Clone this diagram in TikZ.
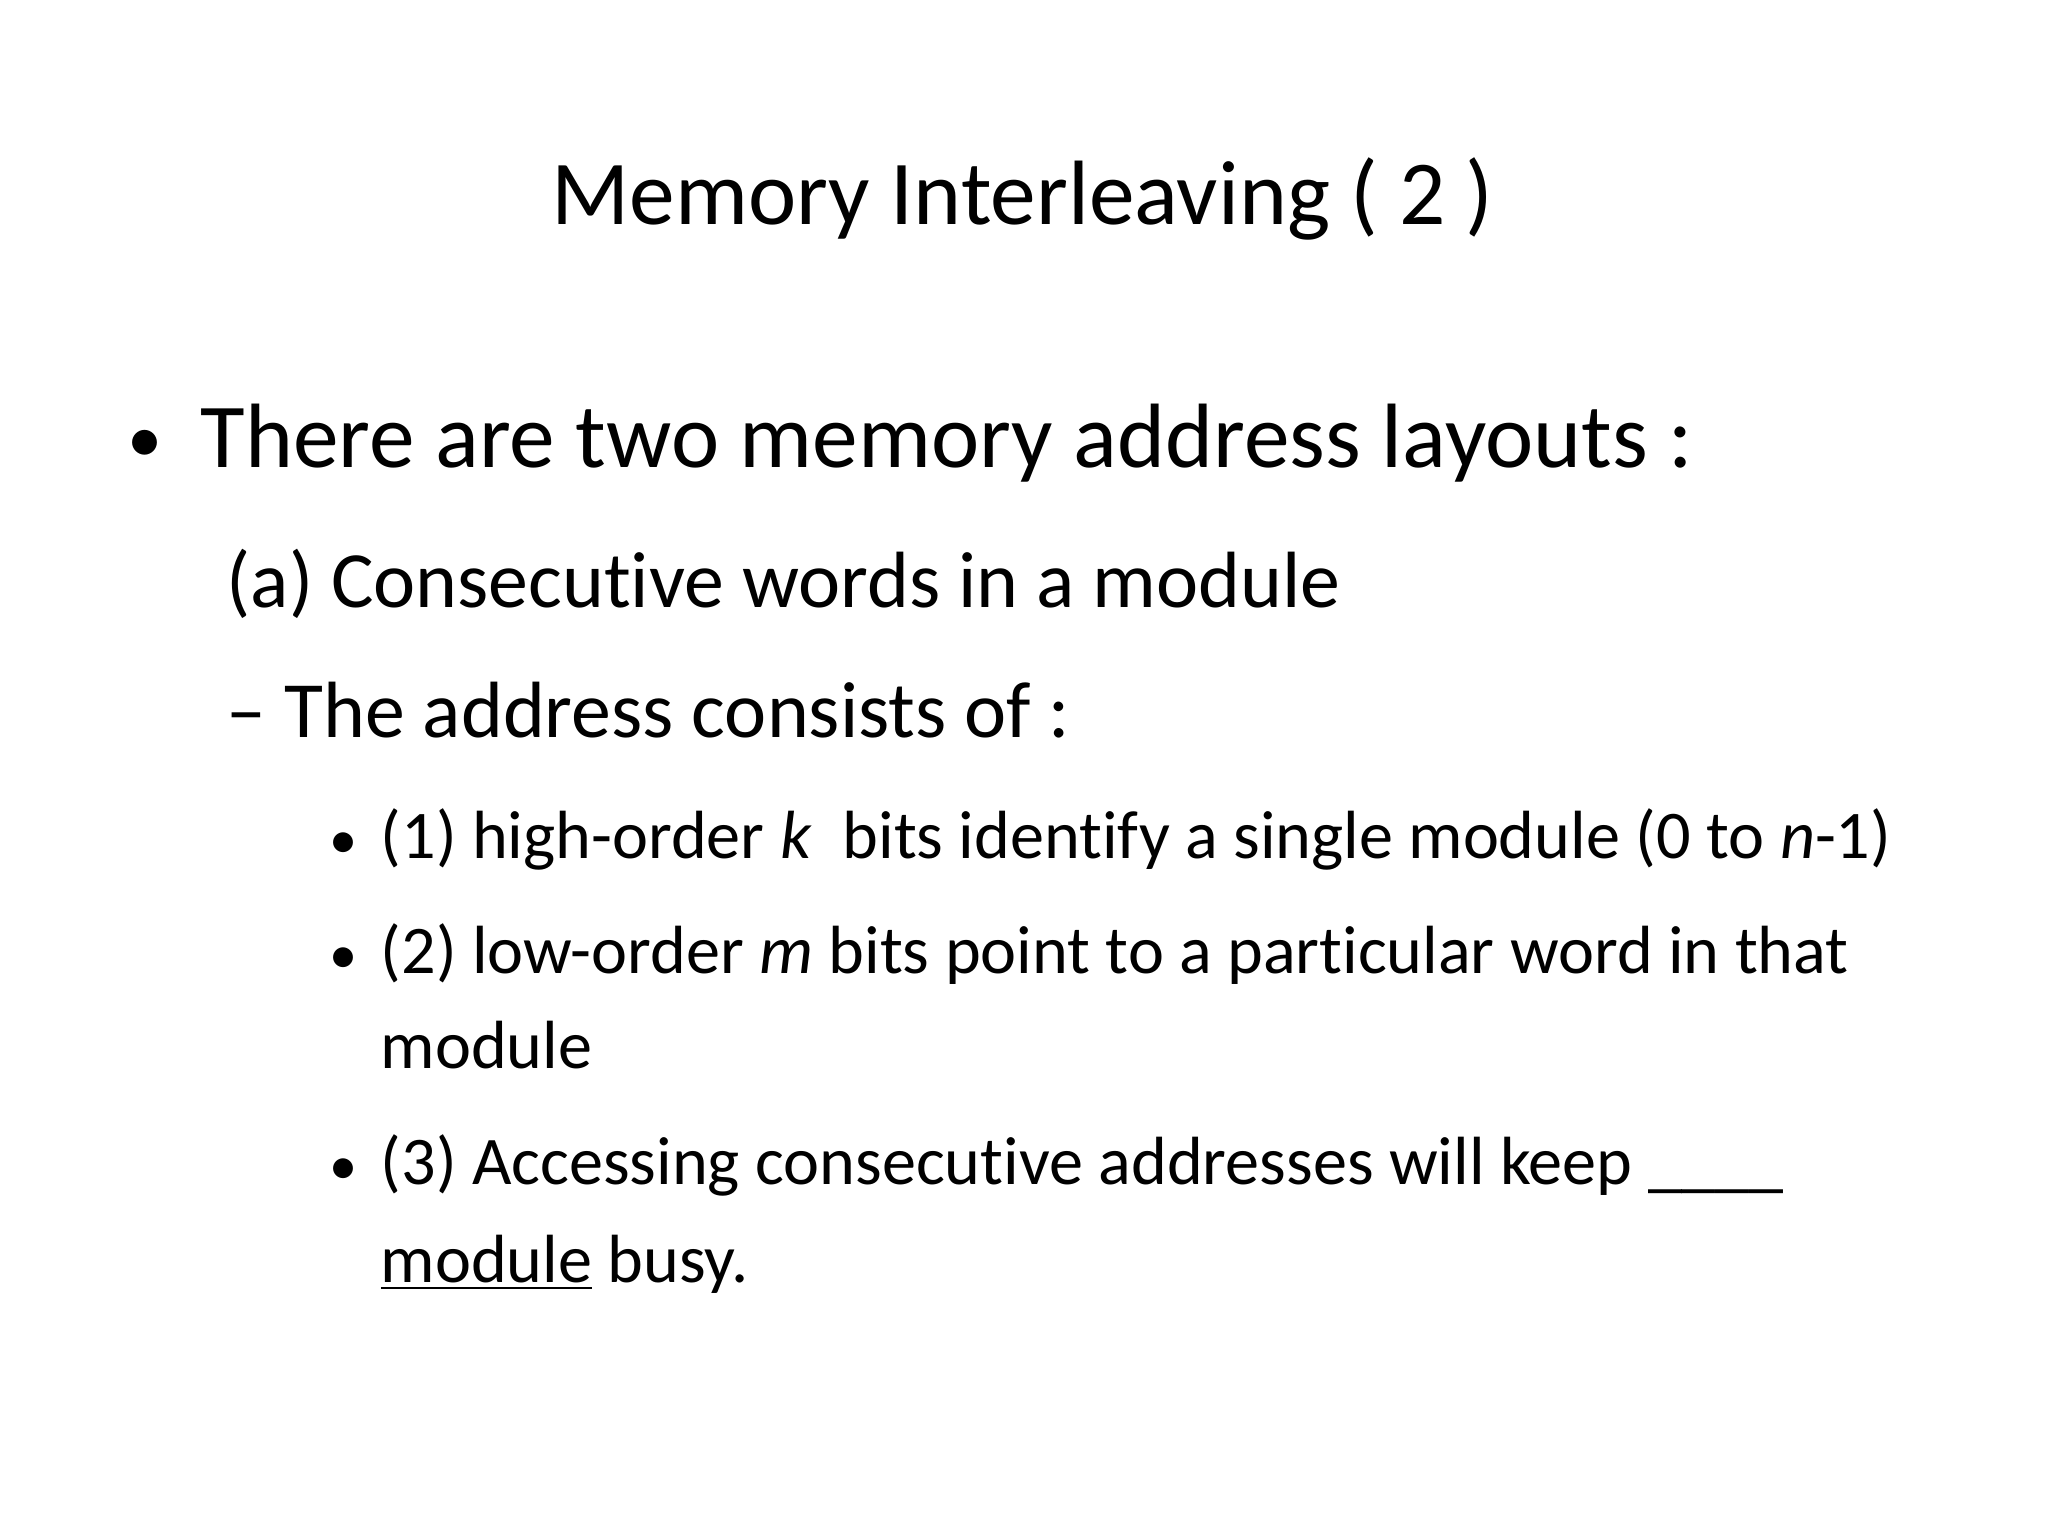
\documentclass[tikz,border=0pt]{standalone}
\usepackage{fontspec}
\setmainfont{Carlito}[Ligatures={NoCommon}]
\begin{document}
\begin{tikzpicture}[x=0.013061cm,y=-0.013061cm,
 t/.style={anchor=base west,inner sep=0pt}]
\useasboundingbox (0,0) rectangle (1568,1176);
\node[t,anchor=base] (title) at (783,172) {\fontsize{26}{31}\selectfont Memory Interleaving ( 2 )};
\node[t] (b1) at (97,354) {\fontsize{20}{24}\selectfont •};
\node[t] (l1) at (153,358) {\fontsize{26}{31}\selectfont There are two memory address layouts :};
\node[t] (l2) at (173,465) {\fontsize{22.7}{27}\selectfont (a) Consecutive words in a module};
\node[t] (l3) at (173,565) {\fontsize{22.7}{27}\selectfont – The address consists of :};
\foreach \y/\n in {657/a,745/b,907/c}
  \node[t] (d\n) at (252,\y) {\fontsize{16}{20}\selectfont •};
\node[t] (i1) at (291,657) {\fontsize{19.4}{24}\selectfont (1) high-order \textit{k}\ \ bits identify a single module (0 to \textit{n}-1)};
\node[t] (i2) at (291,745) {\fontsize{19.4}{24}\selectfont (2) low-order \textit{m} bits point to a particular word in that};
\node[t] (i2b) at (291,818) {\fontsize{19.4}{24}\selectfont module};
\node[t] (i3) at (291,907) {\fontsize{19.4}{24}\selectfont (3) Accessing consecutive addresses will keep \_\_\_\_};
\node[t] (i3b) at (291,982) {\fontsize{19.4}{24}\selectfont \underline{module} busy.};
\end{tikzpicture}
\end{document}
